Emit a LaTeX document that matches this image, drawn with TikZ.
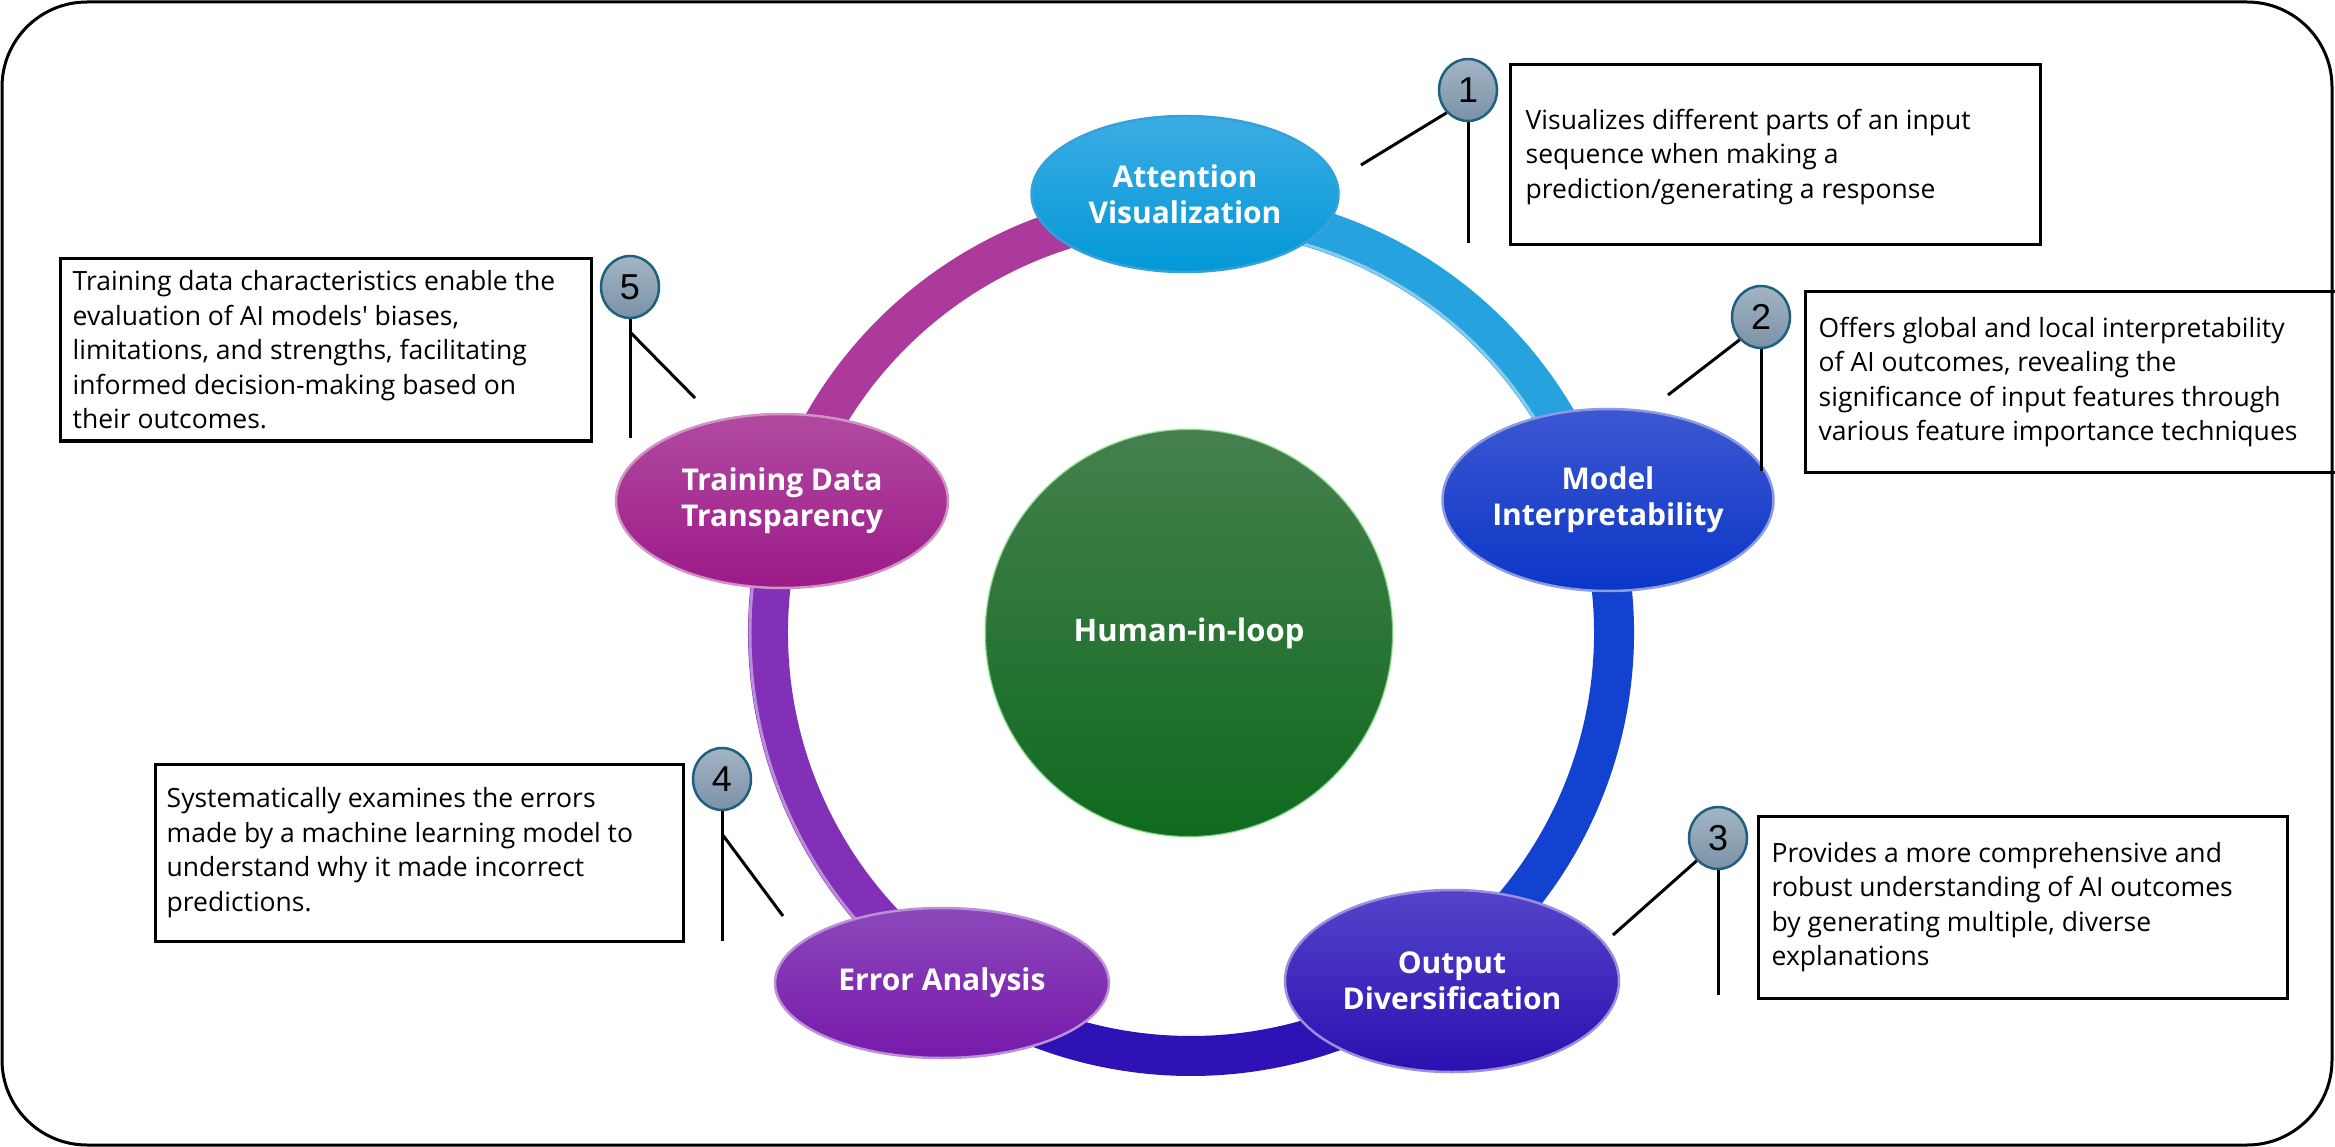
\documentclass[tikz,border=0pt]{standalone}
\usepackage{fontspec}
\setmainfont{Open Sans}
\newfontfamily\digitfont{Liberation Sans}
\usetikzlibrary{shapes.geometric}

% stage colours (top / bottom of each glossy disc)
\definecolor{attTop}{HTML}{3CACE3}
\definecolor{attBot}{HTML}{0398D7}
\definecolor{modTop}{HTML}{3D57D2}
\definecolor{modBot}{HTML}{0A36C6}
\definecolor{outTop}{HTML}{5444CA}
\definecolor{outBot}{HTML}{2C0FB0}
\definecolor{errTop}{HTML}{8C48BA}
\definecolor{errBot}{HTML}{7719AB}
\definecolor{trnTop}{HTML}{B24AA0}
\definecolor{trnBot}{HTML}{9C1A88}
\definecolor{humTop}{HTML}{45804E}
\definecolor{humBot}{HTML}{0F6A1E}
\definecolor{numTop}{HTML}{A3B5C4}
\definecolor{numBot}{HTML}{7A92A7}
\definecolor{numRim}{HTML}{1F5F80}
% ring segment colours
\definecolor{ringA}{HTML}{26A3DF}
\definecolor{ringB}{HTML}{1342D0}
\definecolor{ringC}{HTML}{2F12B6}
\definecolor{ringD}{HTML}{8230B8}
\definecolor{ringE}{HTML}{AC3A9C}

\tikzset{
  stage/.style={ellipse, inner sep=0pt, text=white, align=center,
    font=\fontsize{30}{36}\selectfont\bfseries, line width=2.5pt},
  badge/.style={ellipse, inner sep=0pt, minimum width=58pt, minimum height=62pt,
    top color=numTop, bottom color=numBot, draw=numRim, line width=2.5pt,
    font=\digitfont\fontsize{36}{36}\selectfont},
  infobox/.style={rectangle, draw=black, fill=white, line width=3pt, inner sep=0pt},
  infotext/.style={anchor=west, align=left, inner sep=0pt,
    font=\fontsize{26.5}{34.5}\selectfont},
  leader/.style={draw=black, line width=3pt},
  ringseg/.style={line width=40pt, line cap=butt},
  ringgloss/.style={draw=white, opacity=0.45, line width=3pt},
}

\begin{document}
\begin{tikzpicture}[x=1pt, y=-1pt]
\useasboundingbox (0,0) rectangle (2335,1147);

% the loop
\coordinate (ctr) at (1191,633);
\draw[ringseg, draw=ringA] (ctr) ++(-92:423) arc[start angle=-92, end angle=-16, radius=423];
\draw[ringseg, draw=ringB] (ctr) ++(-18:423) arc[start angle=-18, end angle=56, radius=423];
\draw[ringseg, draw=ringC] (ctr) ++(54:423) arc[start angle=54, end angle=128, radius=423];
\draw[ringseg, draw=ringD] (ctr) ++(126:423) arc[start angle=126, end angle=200, radius=423];
\draw[ringseg, draw=ringE] (ctr) ++(198:423) arc[start angle=198, end angle=272, radius=423];
\draw[ringgloss] (ctr) ++(-90:405) arc[start angle=-90, end angle=-20, radius=405];
\draw[ringgloss] (ctr) ++(130:441) arc[start angle=130, end angle=195, radius=441];

% centre
\node[circle, minimum size=408pt, inner sep=0pt, top color=humTop, bottom color=humBot,
      draw=green!25!white, draw opacity=0.6, line width=2pt, text=white,
      font=\fontsize{31}{36}\selectfont\bfseries] (hum) at (1189,633) {Human-in-loop};

% stages
\node[stage, minimum width=307pt, minimum height=156pt, top color=attTop, bottom color=attBot,
      draw=cyan!40!attTop] (att) at (1185,194) {Attention\\Visualization};
\node[stage, minimum width=331pt, minimum height=182pt, top color=modTop, bottom color=modBot,
      draw=modTop!60!white] (mod) at (1608,500) {Model\\Interpretability};
\node[stage, minimum width=334pt, minimum height=182pt, top color=outTop, bottom color=outBot,
      draw=outTop!60!white] (out) at (1452,981) {Output\\Diversification};
\node[stage, minimum width=334pt, minimum height=150pt, top color=errTop, bottom color=errBot,
      draw=errTop!60!white] (err) at (942,983) {Error Analysis};
\node[stage, minimum width=332pt, minimum height=174pt, top color=trnTop, bottom color=trnBot,
      draw=trnTop!60!white] (trn) at (782,501) {Training Data\\Transparency};

% description boxes
\node[infobox, minimum width=530pt, minimum height=180pt] (b1) at (1775,155) {};
\node[infotext] (t1) at ([xshift=17pt,yshift=-2pt]b1.west)
  {Visualizes different parts of an input\\sequence when making a\\prediction/generating a response};

\node[infobox, minimum width=540pt, minimum height=180pt] (b2) at (2075,382) {};
\node[infotext] (t2) at ([xshift=15pt]b2.west)
  {Offers global and local interpretability\\of AI outcomes, revealing the\\significance of input features through\\various feature importance techniques};

\node[infobox, minimum width=529pt, minimum height=182pt] (b3) at (2022.5,907) {};
\node[infotext] (t3) at ([xshift=15pt]b3.west)
  {Provides a more comprehensive and\\robust understanding of AI outcomes\\by generating multiple, diverse\\explanations};

\node[infobox, minimum width=528pt, minimum height=177pt] (b4) at (419,852.5) {};
\node[infotext] (t4) at ([xshift=13pt]b4.west)
  {Systematically examines the errors\\made by a machine learning model to\\understand why it made incorrect\\predictions.};

\node[infobox, minimum width=531pt, minimum height=182pt] (b5) at (325.5,350) {};
\node[infotext] (t5) at ([xshift=14pt]b5.west)
  {Training data characteristics enable the\\evaluation of AI models\textquotesingle{} biases,\\limitations, and strengths, facilitating\\informed decision-making based on\\their outcomes.};

% number badges
\node[badge] (n1) at (1468,90) {1};
\node[badge] (n2) at (1761,317) {2};
\node[badge] (n3) at (1718,838) {3};
\node[badge] (n4) at (722,779) {4};
\node[badge] (n5) at (630,287) {5};

% leader ends
\coordinate (d1) at (1361,165);  \coordinate (v1) at (1468,243);
\coordinate (d2) at (1668,395);  \coordinate (v2) at (1761,471);
\coordinate (d3) at (1613,935);  \coordinate (v3) at (1718,995);
\coordinate (j4) at (722,834);   \coordinate (d4) at (783,916);  \coordinate (v4) at (722,941);
\coordinate (j5) at (630,332);   \coordinate (d5) at (695,398);  \coordinate (v5) at (630,438);

% leaders
\draw[leader] (n1.south west) -- (d1);
\draw[leader] (n1.south) -- (v1);
\draw[leader] (n2.south west) -- (d2);
\draw[leader] (n2.south) -- (v2);
\draw[leader] (n3.south west) -- (d3);
\draw[leader] (n3.south) -- (v3);
\draw[leader] (n4.south) -- (v4);
\draw[leader] (j4) -- (d4);
\draw[leader] (n5.south) -- (v5);
\draw[leader] (j5) -- (d5);

% outer frame, on top so it runs through the box that reaches the edge
\draw[line width=3pt, rounded corners=85pt] (2,2) rectangle (2332,1145);
\end{tikzpicture}
\end{document}
